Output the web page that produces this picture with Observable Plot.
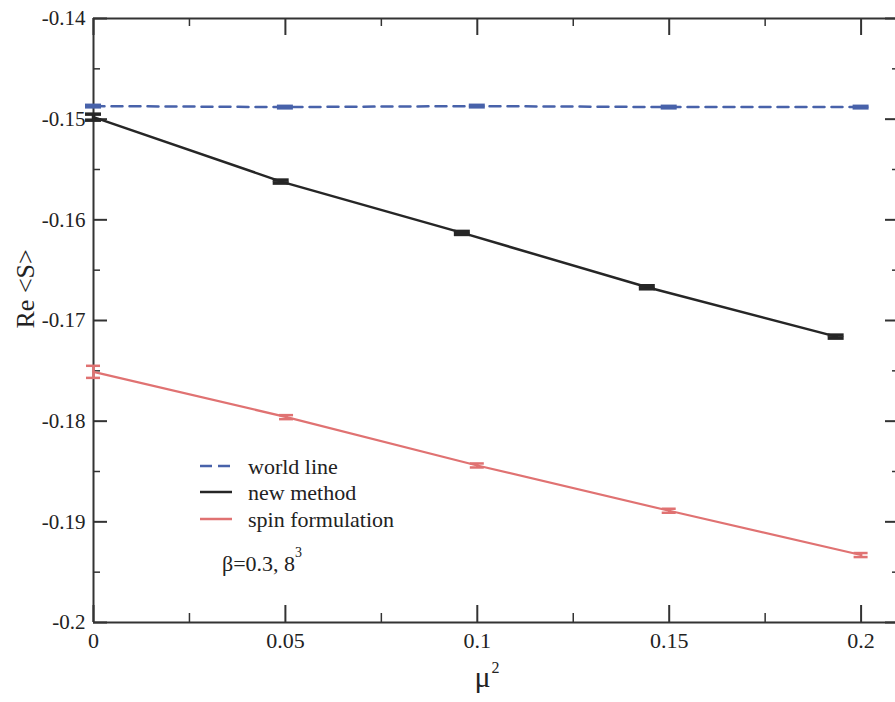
<!DOCTYPE html>
<html><head><meta charset="utf-8">
<script src="https://cdn.jsdelivr.net/npm/d3@7"></script>
<script src="https://cdn.jsdelivr.net/npm/@observablehq/plot@0.6"></script>
<style>body{margin:0;background:#fff;} svg{display:block;} svg text{font-family:"Liberation Serif","Times New Roman",serif;}</style>
</head><body><div id="chart"></div>
<script>
// ---- data ----
const muSqWorld = [0, 0.05, 0.1, 0.15, 0.2];
const sWorld    = [-0.1487, -0.1488, -0.1487, -0.1488, -0.1488];
const errWorld  = [0.0001, 0.0001, 0.0001, 0.0001, 0.0001];

const muSqNew = [0, 0.0489, 0.0961, 0.1443, 0.1935];
const sNew    = [-0.1498, -0.1562, -0.1613, -0.1667, -0.1716];
const errNew  = [0.0003, 0.00015, 0.00015, 0.00015, 0.00015];

const muSqSpin = [0, 0.0503, 0.1, 0.15, 0.2];
const sSpin    = [-0.1751, -0.1796, -0.1844, -0.1889, -0.1933];
const errSpin  = [0.0006, 0.0002, 0.0002, 0.0002, 0.0002];

const xTicks = [0, 0.05, 0.1, 0.15, 0.2];
const xMinor = [0.025, 0.075, 0.125, 0.175];
const yTicks = [-0.2, -0.19, -0.18, -0.17, -0.16, -0.15, -0.14];
const yMinor = [-0.195, -0.185, -0.175, -0.165, -0.155, -0.145];

const seriesNames = ["world line", "new method", "spin formulation"];
const seriesColors = ["#4862aa", "#262626", "#e07272"];
const annotation = "β=0.3, 8";

// ---- build rows ----
const rows = (xs, ys, es) => xs.map((x, i) => ({x, y: ys[i], lo: ys[i] - es[i], hi: ys[i] + es[i]}));
const world = rows(muSqWorld, sWorld, errWorld);
const nw = rows(muSqNew, sNew, errNew);
const spin = rows(muSqSpin, sSpin, errSpin);

const W = 895, H = 702, mL = 93, mT = 18, mB = 80, mR = 0;
const plotH = H - mT - mB, plotW = W - mL - mR;
const serif = '"Liberation Serif", "Times New Roman", serif';
const ink = "#333";

function errorMarks(data, color, sw, cap) {
  return [
    Plot.ruleX(data, {x: "x", y1: "lo", y2: "hi", stroke: color, strokeWidth: sw}),
    Plot.ruleY(data, {y: "lo", x1: "x", x2: "x", insetLeft: -cap, insetRight: -cap, stroke: color, strokeWidth: sw}),
    Plot.ruleY(data, {y: "hi", x1: "x", x2: "x", insetLeft: -cap, insetRight: -cap, stroke: color, strokeWidth: sw})
  ];
}

const plot = Plot.plot({
  width: W, height: H,
  marginLeft: mL, marginRight: mR, marginTop: mT, marginBottom: mB,
  style: {fontFamily: serif, background: "#fff", color: ink},
  x: {domain: [0, 0.21], range: [mL, mL + 0.21 * 3838]},
  y: {domain: [-0.2, -0.14]},
  marks: [
    // frame (left, bottom, top; right edge lies just beyond the picture)
    Plot.ruleX([0], {stroke: ink, strokeWidth: 2}),
    Plot.ruleY([-0.2, -0.14], {stroke: ink, strokeWidth: 2}),
    // inward ticks
    Plot.ruleX(xTicks, {insetTop: plotH - 17, stroke: ink, strokeWidth: 2}),
    Plot.ruleX(xMinor, {insetTop: plotH - 9, stroke: ink, strokeWidth: 1.5}),
    Plot.ruleX(xTicks, {insetBottom: plotH - 17, stroke: ink, strokeWidth: 2}),
    Plot.ruleX(xMinor, {insetBottom: plotH - 8, stroke: ink, strokeWidth: 1.5}),
    Plot.ruleY(yTicks, {insetRight: plotW - 14, stroke: ink, strokeWidth: 2}),
    Plot.ruleY(yMinor, {insetRight: plotW - 7, stroke: ink, strokeWidth: 1.5}),
    Plot.ruleY(yTicks, {insetLeft: plotW - 10, stroke: ink, strokeWidth: 2}),
    Plot.ruleY(yMinor, {insetLeft: plotW - 3, stroke: ink, strokeWidth: 1.5}),
    // tick labels
    Plot.axisY(yTicks, {tickSize: 0, tickPadding: 8, tickFormat: d => String(d), fontSize: 21, label: null, fill: "#222"}),
    Plot.axisX(xTicks, {tickSize: 0, tickPadding: 10, tickFormat: d => String(d), fontSize: 22, label: null, fill: "#222"}),
    // axis titles
    Plot.text(["Re <S>"], {frameAnchor: "left", dx: -68, dy: 8, rotate: -90, fontSize: 26, fill: "#222"}),
    Plot.text(["μ"], {frameAnchor: "bottom", dx: -12, dy: 64, fontSize: 30, fill: "#222"}),
    Plot.text(["2"], {frameAnchor: "bottom", dx: 1, dy: 50, fontSize: 16, fill: "#222"}),
    // series
    Plot.line(world, {x: "x", y: "y", stroke: seriesColors[0], strokeWidth: 2.5, strokeDasharray: "11,7"}),
    ...errorMarks(world, seriesColors[0], 3, 8),
    Plot.line(nw, {x: "x", y: "y", stroke: seriesColors[1], strokeWidth: 2.5}),
    ...errorMarks(nw, seriesColors[1], 3.5, 8),
    Plot.line(spin, {x: "x", y: "y", stroke: seriesColors[2], strokeWidth: 2.2}),
    ...errorMarks(spin, seriesColors[2], 2.5, 7)
  ]
});

document.getElementById("chart").appendChild(plot);

// legend + annotation inside the frame
const svg = d3.select(plot);
const lg = svg.append("g").attr("font-family", serif).attr("font-size", 22)
  .attr("fill", "#222").attr("text-anchor", "start");
const legY = [466, 492, 519];
const dashes = ["12,6", null, null];
seriesNames.forEach((name, i) => {
  lg.append("line").attr("x1", 200).attr("x2", 232).attr("y1", legY[i]).attr("y2", legY[i])
    .attr("stroke", seriesColors[i]).attr("stroke-width", 2.5)
    .attr("stroke-dasharray", dashes[i]);
  lg.append("text").attr("x", 248).attr("y", legY[i] + 8).text(name);
});
const ann = lg.append("text").attr("x", 222).attr("y", 571);
ann.append("tspan").text(annotation);
ann.append("tspan").attr("dy", -14).attr("font-size", 14).text("3");
</script>
</body></html>
